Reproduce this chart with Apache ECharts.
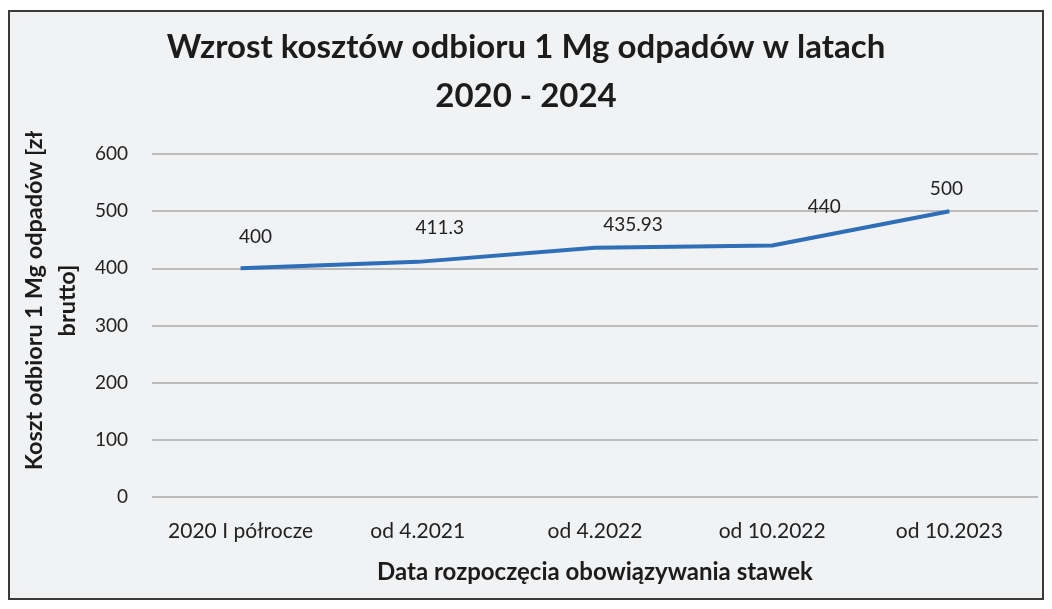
<!DOCTYPE html>
<html>
<head>
<meta charset="utf-8">
<script src="https://cdn.jsdelivr.net/npm/echarts@6/dist/echarts.min.js"></script>
<style>
  html, body { margin: 0; padding: 0; background: #ffffff; }
  #wrap { position: absolute; left: 8px; top: 10px; width: 1036px; height: 590px;
          border: 2px solid #3a3a3a; background: #f1f2f4; box-sizing: border-box; }
  #chart { width: 100%; height: 100%; }
</style>
</head>
<body>
<div id="wrap"><div id="chart"></div></div>
<script>
const categories = ['2020 I półrocze', 'od 4.2021', 'od 4.2022', 'od 10.2022', 'od 10.2023']
const costs = [400, 411.3, 435.93, 440, 500]
const labelShift = [[15, -17], [22, -19], [38, -8], [52, -24], [-3, -8]]

const font = 'Lato, "Open Sans", sans-serif'

function createChart() {
    let chart = echarts.init(document.getElementById('chart'))
    let points = costs.map((v, i) => ({
        value: v,
        label: { show: true, offset: labelShift[i] }
    }))
    let option = {
        title: {
            text: 'Wzrost kosztów odbioru 1 Mg odpadów w latach\n2020 - 2024',
            left: 'center',
            top: 6,
            textStyle: {
                fontFamily: font,
                fontSize: 33,
                fontWeight: 'bold',
                color: '#1c1c1c',
                lineHeight: 49
            }
        },
        grid: { left: 134, right: 4, top: 142, bottom: 101, containLabel: false },
        xAxis: {
            type: 'category',
            data: categories,
            name: 'Data rozpoczęcia obowiązywania stawek',
            nameLocation: 'middle',
            nameGap: 63,
            nameTextStyle: { fontFamily: font, fontSize: 24, fontWeight: 'bold', color: '#1c1c1c' },
            axisLine: { show: false },
            axisTick: { show: false },
            axisLabel: { interval: 0, fontFamily: font, fontSize: 21, color: '#222', margin: 24 }
        },
        yAxis: {
            type: 'value',
            min: 0,
            max: 600,
            interval: 100,
            name: 'Koszt odbioru 1 Mg odpadów [zł\nbrutto]',
            nameLocation: 'middle',
            nameGap: 51,
            nameRotate: 90,
            nameTextStyle: { fontFamily: font, fontSize: 23.5, fontWeight: 'bold', color: '#1c1c1c', lineHeight: 33, padding: [0, 0, 0, 50] },
            axisLabel: { fontFamily: font, fontSize: 19, color: '#222', margin: 24 },
            splitLine: { lineStyle: { color: '#a8a8a8', width: 1.5 } }
        },
        series: [
            {
                type: 'line',
                data: points,
                symbol: 'circle',
                symbolSize: 0.1,
                showSymbol: true,
                itemStyle: { color: 'rgba(0,0,0,0)', borderWidth: 0 },
                lineStyle: { color: '#2f6fb8', width: 4 },
                label: {
                    show: true,
                    position: 'top',
                    distance: 5,
                    fontFamily: font,
                    fontSize: 19,
                    color: '#222'
                }
            }
        ]
    }
    chart.setOption(option)
}

document.addEventListener('DOMContentLoaded', () => {
    createChart()
})
</script>
</body>
</html>
